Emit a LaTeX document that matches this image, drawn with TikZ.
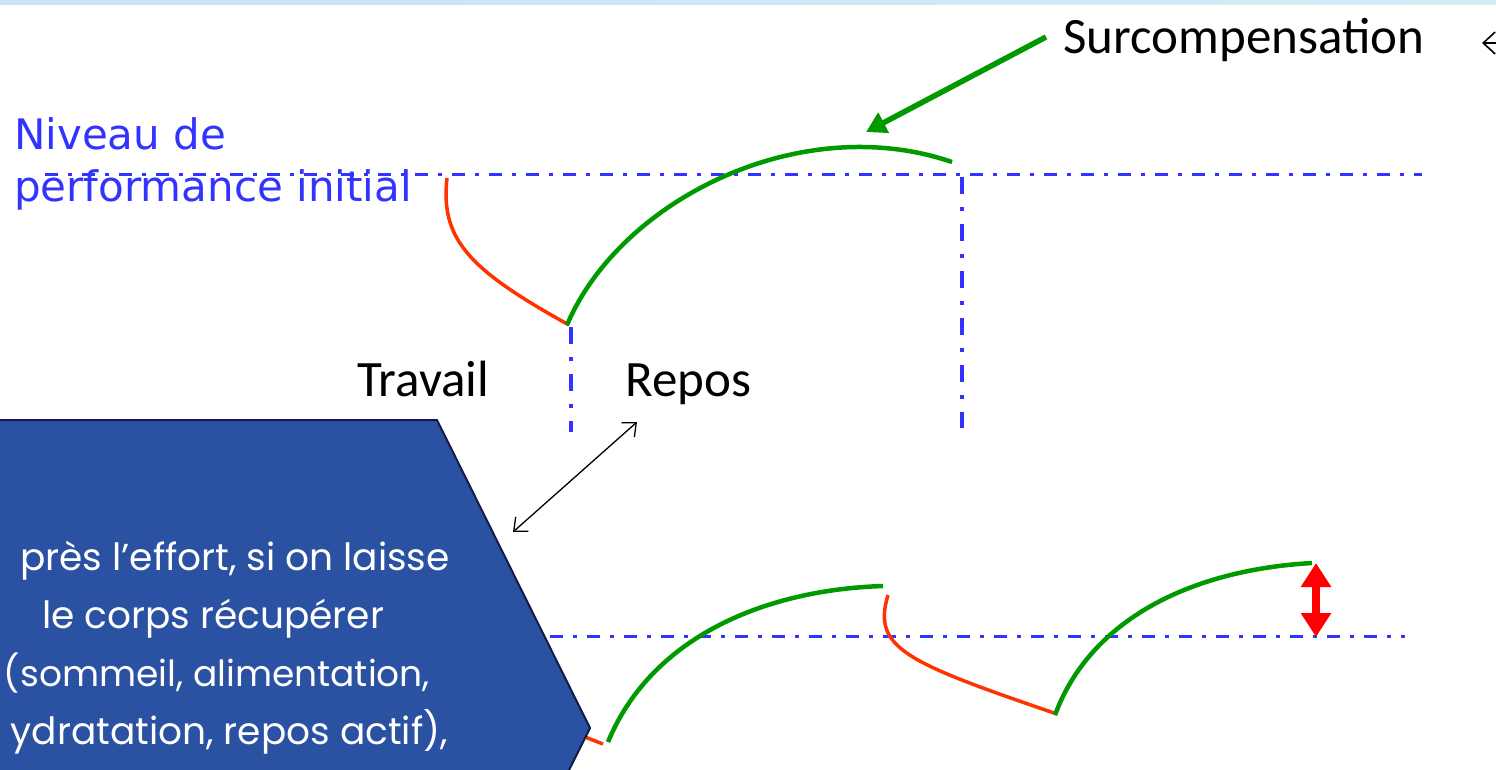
\documentclass[tikz,border=0pt]{standalone}
\usepackage{fontspec}
\setmainfont{Carlito}
\newfontfamily\nivfont{DejaVu Sans}
\newfontfamily\boxfont{Poppins}
\usetikzlibrary{arrows.meta}
\definecolor{lineblue}{RGB}{51,51,255}
\definecolor{curvegreen}{RGB}{0,153,0}
\definecolor{curvered}{RGB}{255,51,0}
\definecolor{arrowred}{RGB}{255,0,0}
\definecolor{boxfill}{RGB}{42,81,162}
\definecolor{boxdraw}{RGB}{16,30,70}
\definecolor{barleft}{RGB}{200,227,242}
\definecolor{barright}{RGB}{214,235,246}
\tikzset{
  hdashdot/.style={lineblue, line width=3, dash pattern=on 13pt off 10pt on 4pt off 10pt},
  vdashdot/.style={lineblue, line width=4.5, dash pattern=on 17pt off 13pt on 4pt off 13pt},
  gain/.style={curvegreen, line width=4.5},
  loss/.style={curvered, line width=3.5},
  bigtxt/.style={font=\fontsize{51}{61}\selectfont, inner sep=0},
  boxtxt/.style={font=\boxfont\fontsize{37.5}{45}\selectfont, text=white, inner sep=0},
}
\begin{document}
\begin{tikzpicture}[x=1pt,y=-1pt]
\useasboundingbox (0,0) rectangle (1496,770);
\clip (0,0) rectangle (1496,770);
% top bar
\shade[left color=barleft, right color=barright] (0,0) rectangle (1496,5);

% level lines
\draw[hdashdot] (45,175) -- (1422,175);
\draw[vdashdot] (962,177) -- (962,428);
\draw[vdashdot] (571,327) -- (571,432);
\draw[hdashdot] (550,636) -- (1405,636);

% labels
\node[bigtxt, anchor=base west] (sur) at (1063,54) {Surcompensation};
\node[anchor=base west, inner sep=0, font=\nivfont\fontsize{42}{52}\selectfont, text=lineblue, align=left] (niv) at (14,202) {Niveau de\\performance initial};
\node[bigtxt, anchor=base west] (trav) at (357,396) {Travail};
\node[bigtxt, anchor=base west] (repos) at (625,396) {Repos};

% top cycle
\coordinate (t0) at (447,178);
\coordinate (t1) at (569,325);
\coordinate (t2) at (952,162);
\draw[loss] (t0) .. controls (440,240) and (470,270) .. (t1);
\draw[gain] (567,325) .. controls (620,200) and (800,110) .. (t2);

% surcompensation arrow
\coordinate (peak) at (866,132);
\draw[curvegreen, line width=5.5, -{Triangle[length=20pt,width=22pt]}] ([xshift=-17pt,yshift=17pt]sur.base west) -- (peak);

% partial arrow top right
\coordinate (rt) at (1482,43);
\draw[line width=1.6, {Straight Barb[length=12pt,width=22pt]}-] (rt) -- (1500,43);

% bottom cycles
\draw[loss] (585,737) -- (603,744);
\coordinate (b1) at (883,586);
\draw[gain] (608,742) .. controls (650,640) and (760,590) .. (b1);
\coordinate (b2) at (888,595);
\coordinate (b3) at (1057,714);
\draw[loss] (b2) .. controls (872,648) and (905,662) .. (b3);
\coordinate (b4) at (1312,563);
\draw[gain] (1055,715) .. controls (1090,620) and (1190,570) .. (b4);

% red double arrow
\coordinate (ra) at (1316,563);
\coordinate (rb) at (1316,637);
\draw[arrowred, line width=8, {Triangle[length=24pt,width=29pt]}-{Triangle[length=24pt,width=29pt]}] (ra) -- (rb);

% blue pentagon
\filldraw[fill=boxfill, draw=boxdraw, line width=2] (-5,420) -- (437,420) -- (590,728) -- (565,778) -- (-5,778) -- cycle;
\coordinate (boxpt) at (513,532);
\node[boxtxt, anchor=base east] (l1) at (450,570) {près l’effort, si on laisse};
\node[boxtxt, anchor=base] (l2) at (213,628) {le corps récupérer};
\node[boxtxt, anchor=base, font=\boxfont\fontsize{36}{45}\selectfont] (l3) at (217,686) {(sommeil, alimentation,};
\node[boxtxt, anchor=base east] (l4) at (448,744) {ydratation, repos actif),};

% black double arrow
\coordinate (rp) at (637,422);
\draw[line width=1.3, {Straight Barb[length=11pt,width=19pt]}-{Straight Barb[length=11pt,width=19pt]}] (boxpt) -- (rp);
\end{tikzpicture}
\end{document}
